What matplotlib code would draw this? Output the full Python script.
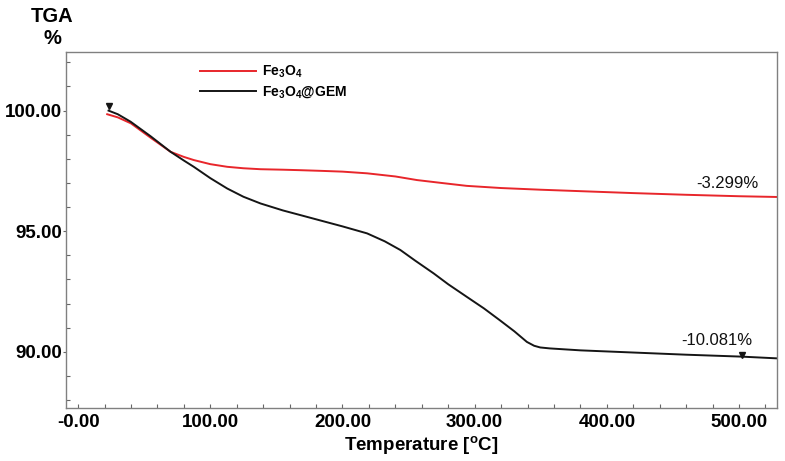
import matplotlib
matplotlib.use("Agg")
import matplotlib.pyplot as plt
from matplotlib.ticker import MultipleLocator, FormatStrFormatter

plt.rcParams['font.family'] = ['Liberation Sans', 'DejaVu Sans']
plt.rcParams['mathtext.fontset'] = 'custom'
plt.rcParams['mathtext.rm'] = 'Liberation Sans:bold'
plt.rcParams['mathtext.bf'] = 'Liberation Sans:bold'

# Fe3O4 curve
temp_fe = [22, 30, 40, 55, 70, 80, 87.5, 100, 112.8, 125, 138, 155, 168, 185, 200, 218.6,
           240, 256.4, 275, 294, 320, 350, 380, 420, 460, 500, 528]
tga_fe = [99.85, 99.72, 99.47, 98.87, 98.29, 98.08, 97.95, 97.78, 97.67, 97.61, 97.57, 97.55,
          97.53, 97.50, 97.47, 97.40, 97.27, 97.12, 97.00, 96.88, 96.79, 96.72, 96.66, 96.58,
          96.51, 96.45, 96.42]

# Fe3O4@GEM curve
temp_gem = [23, 30, 39.7, 55, 70, 80, 87.5, 100, 112.8, 125, 138, 155, 168, 185, 200, 218.6,
            232, 243.8, 255, 269, 280, 294, 307, 319, 330, 339.5, 345, 349.6, 357, 380, 420,
            460, 502, 528]
tga_gem = [100.0, 99.85, 99.54, 98.93, 98.29, 97.93, 97.67, 97.2, 96.77, 96.43, 96.15, 95.86,
           95.67, 95.42, 95.2, 94.91, 94.58, 94.22, 93.78, 93.25, 92.8, 92.28, 91.8, 91.31,
           90.85, 90.41, 90.25, 90.18, 90.14, 90.06, 89.97, 89.88, 89.8, 89.73]

# marker positions and labels
marker_t = [23, 502]
marker_v = [100.2, 89.88]
loss_labels = ['-3.299%', '-10.081%']
loss_pos_t = [515, 510]
loss_pos_v = [96.79, 90.28]

series_labels = ['Fe$_{3}$O$_{4}$', 'Fe$_{3}$O$_{4}$@GEM']
xticks = [0, 100, 200, 300, 400, 500]
yticks = [90, 95, 100]

fig = plt.figure(figsize=(7.85, 4.61), dpi=100)
ax = fig.add_axes([65.7 / 785, 1 - 408 / 461, (776.7 - 65.7) / 785, (408 - 52) / 461])

red = '#e8262b'
blk = '#151515'
ax.plot(temp_fe, tga_fe, color=red, lw=1.4, label=series_labels[0])
ax.plot(temp_gem, tga_gem, color=blk, lw=1.4, label=series_labels[1])
ax.plot(marker_t, marker_v, linestyle='none', marker='v', color=blk, markersize=5)

ax.text(loss_pos_t[0], loss_pos_v[0], loss_labels[0], ha='right', va='baseline', fontsize=12, color='#111')
ax.text(loss_pos_t[1], loss_pos_v[1], loss_labels[1], ha='right', va='baseline', fontsize=12, color='#111')

ax.set_xlim(-9.4, 528.5)
ax.set_ylim(87.67, 102.43)

ax.set_xticks(xticks)
ax.set_yticks(yticks)
ax.yaxis.set_major_formatter(FormatStrFormatter('%.2f'))
ax.set_xticklabels(['-0.00'] + ['%.2f' % t for t in xticks[1:]])
ax.xaxis.set_minor_locator(MultipleLocator(20))
ax.yaxis.set_minor_locator(MultipleLocator(1))

for lab in ax.get_xticklabels() + ax.get_yticklabels():
    lab.set_fontweight('bold')
    lab.set_fontsize(13.5)

ax.tick_params(axis='x', which='both', direction='in', length=3, width=0.8, color='#666', pad=4)
ax.tick_params(axis='y', which='major', direction='out', length=2.2, width=0.8, color='#666', pad=0.5)
ax.tick_params(axis='y', which='minor', direction='in', length=3, width=0.8, color='#666')
ax.tick_params(top=False, right=False, which='both')

for s in ax.spines.values():
    s.set_color('#808080')
    s.set_linewidth(1.0)

ax.set_xlabel('Temperature [$^{\\mathrm{o}}$C]', fontsize=13.5, fontweight='bold', labelpad=3)

fig.text(52 / 785, 1 - 17 / 461, 'TGA', ha='center', va='center', fontsize=14.5, fontweight='bold')
fig.text(52 / 785, 1 - 38 / 461, '%', ha='center', va='center', fontsize=14.5, fontweight='bold')

leg = ax.legend(loc='upper left', bbox_to_anchor=((200 - 65.7) / 711, 1 - (64 - 52) / 356),
                frameon=False, fontsize=10, handlelength=4.0, handletextpad=0.5,
                labelspacing=0.3, borderpad=0, borderaxespad=0)
for t in leg.get_texts():
    t.set_fontweight('bold')

fig.savefig('out.png', dpi=100)
